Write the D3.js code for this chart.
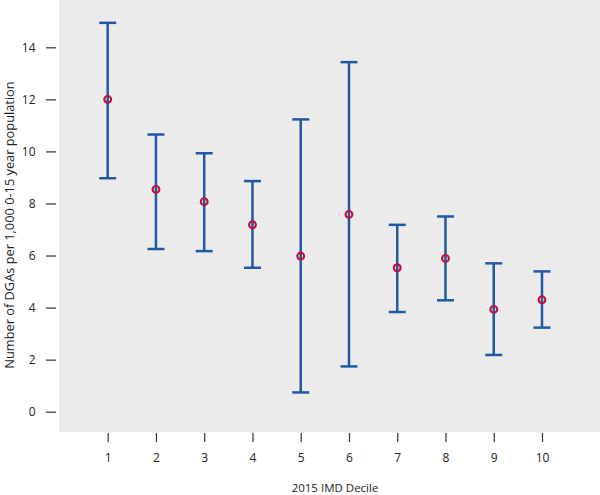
<!DOCTYPE html>
<html><head><meta charset="utf-8">
<script src="https://cdn.jsdelivr.net/npm/d3@7"></script>
<style>
html,body{margin:0;padding:0;background:#fff;}
svg{display:block;font-family:"Open Sans",sans-serif;}
</style></head>
<body>
<svg id="chart" width="600" height="495"></svg>
<script>
const deciles = [1,2,3,4,5,6,7,8,9,10];
const means = [12.0, 8.54, 8.07, 7.18, 5.98, 7.58, 5.53, 5.89, 3.93, 4.30];
const lower = [8.97, 6.25, 6.17, 5.53, 0.74, 1.74, 3.83, 4.28, 2.18, 3.23];
const upper = [14.94, 10.65, 9.93, 8.86, 11.23, 13.43, 7.18, 7.50, 5.70, 5.39];
const yTicks = [0,2,4,6,8,10,12,14];
const xTitle = "2015 IMD Decile";
const yTitle = "Number of DGAs per 1,000 0-15 year population";

const svg = d3.select("#chart");
const panel = {x0:59, x1:600, y0:0, y1:432};
const x = d3.scaleLinear().domain([1,10]).range([107.7,542]);
const y = d3.scaleLinear().domain([0,14]).range([411.7,47.3]);

svg.append("rect").attr("x",panel.x0).attr("y",panel.y0)
  .attr("width",panel.x1-panel.x0).attr("height",panel.y1-panel.y0)
  .attr("fill","#ebebeb");

// y axis
const yAxis = d3.axisLeft(y).tickValues(yTicks).tickSize(0).tickPadding(0);
const gy = svg.append("g").attr("transform","translate(46,0)").call(yAxis);
gy.select(".domain").remove();
gy.selectAll(".tick text").attr("x",-10.5).attr("dy","0.35em")
  .attr("font-size",12).attr("fill","#222").attr("font-family","Open Sans");
gy.selectAll(".tick").append("line").attr("x1",0).attr("x2",10)
  .attr("stroke","#333").attr("stroke-width",1.2);

// x axis
const xAxis = d3.axisBottom(x).tickValues(deciles).tickFormat(d3.format("d")).tickSize(0).tickPadding(0);
const gx = svg.append("g").attr("transform","translate(0,433)").call(xAxis);
gx.select(".domain").remove();
gx.selectAll(".tick text").attr("y",25).attr("dy","0.35em")
  .attr("font-size",12).attr("fill","#222").attr("font-family","Open Sans");
gx.selectAll(".tick").append("line").attr("y1",0).attr("y2",9)
  .attr("stroke","#333").attr("stroke-width",1.2);

// titles
svg.append("text").attr("x",335).attr("y",492).attr("text-anchor","middle")
  .attr("font-size",11.5).attr("fill","#222").text(xTitle);
svg.append("text").attr("transform","translate(9,225) rotate(-90)")
  .attr("text-anchor","middle").attr("dominant-baseline","central")
  .attr("font-size",12.8).attr("fill","#222").text(yTitle);

const data = deciles.map((d,i)=>({d, m:means[i], lo:lower[i], hi:upper[i]}));
const blue = "#1d5aa3", red = "#c0103a";
const g = svg.append("g");
const cap = 8.5;
g.selectAll(".v").data(data).join("line")
  .attr("x1",d=>x(d.d)).attr("x2",d=>x(d.d))
  .attr("y1",d=>y(d.lo)).attr("y2",d=>y(d.hi))
  .attr("stroke",blue).attr("stroke-width",2.5);
g.selectAll(".t").data(data).join("line")
  .attr("x1",d=>x(d.d)-cap).attr("x2",d=>x(d.d)+cap)
  .attr("y1",d=>y(d.hi)).attr("y2",d=>y(d.hi))
  .attr("stroke",blue).attr("stroke-width",2.5);
g.selectAll(".b").data(data).join("line")
  .attr("x1",d=>x(d.d)-cap).attr("x2",d=>x(d.d)+cap)
  .attr("y1",d=>y(d.lo)).attr("y2",d=>y(d.lo))
  .attr("stroke",blue).attr("stroke-width",2.5);
g.selectAll("circle").data(data).join("circle")
  .attr("cx",d=>x(d.d)).attr("cy",d=>y(d.m)).attr("r",3.4)
  .attr("fill","none").attr("stroke",red).attr("stroke-width",2.1);
</script>
</body></html>
